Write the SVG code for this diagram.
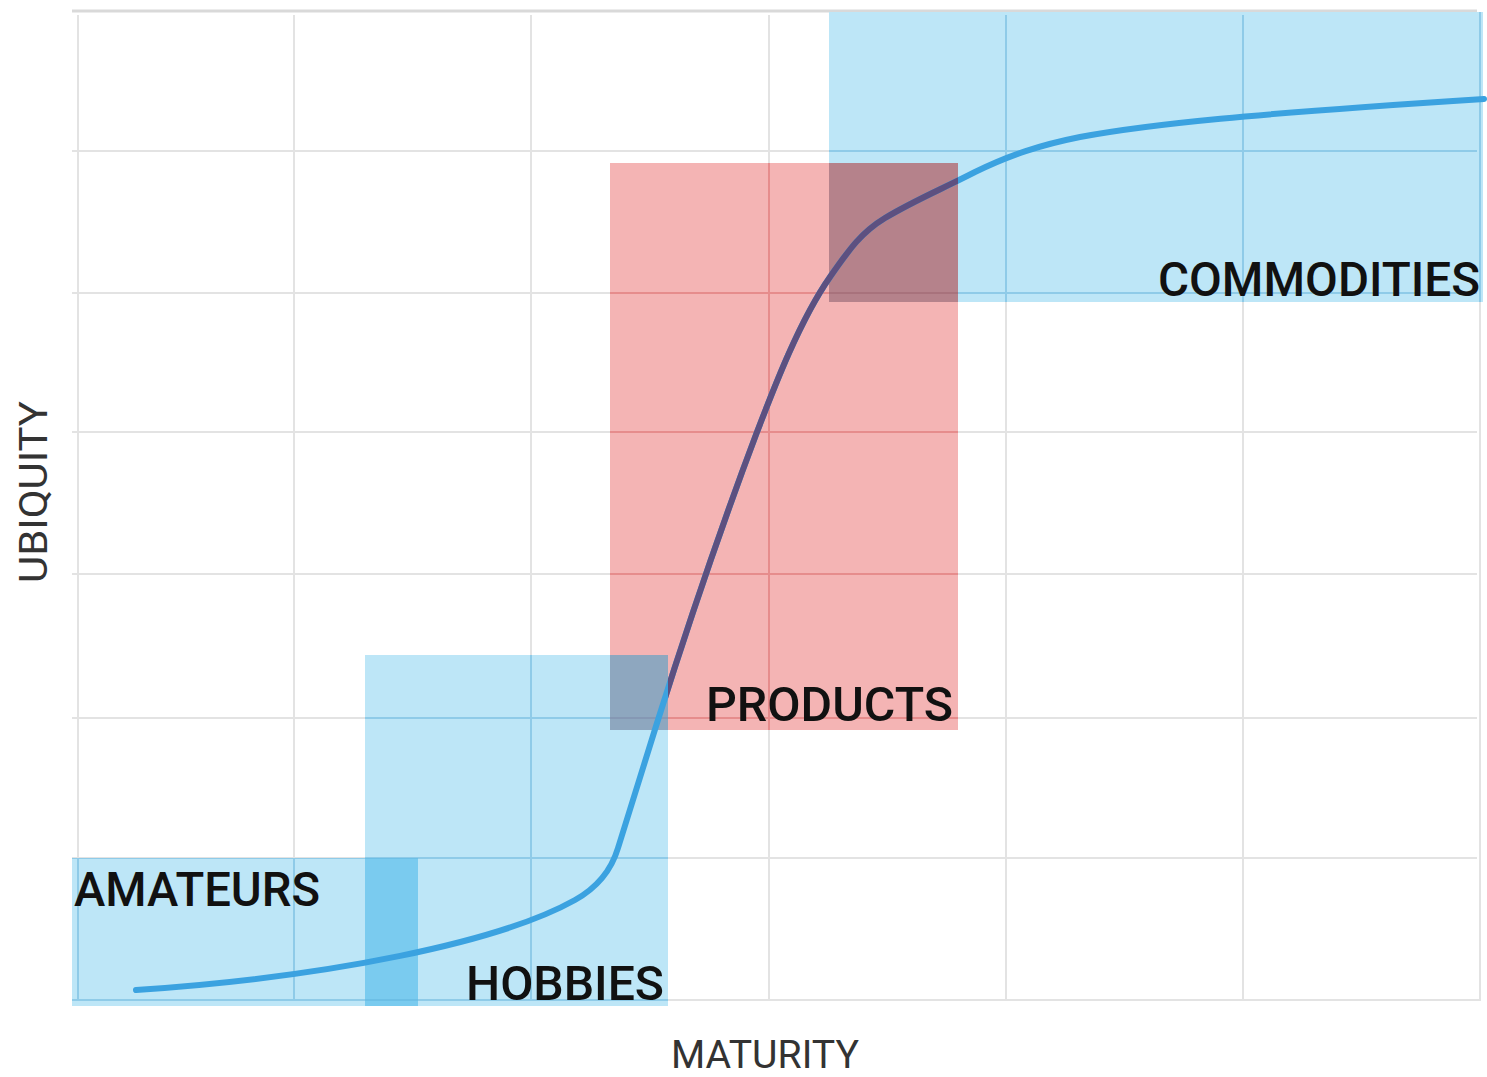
<svg xmlns="http://www.w3.org/2000/svg" xmlns:xlink="http://www.w3.org/1999/xlink" width="1487" height="1077" viewBox="0 0 1487 1077">
<style>
.lbl{font-family:Roboto,"Liberation Sans",sans-serif;font-weight:500;font-size:48px;fill:#111}
.axis{font-family:Roboto,"Liberation Sans",sans-serif;font-weight:400;font-size:39px;fill:#333}
.blue{fill:#bde6f7}
.red{fill:#f4b4b4}
.curve{fill:none;stroke-width:6;stroke-linecap:round;stroke-linejoin:round}
</style>
<defs>
<g id="gridlines" stroke-width="2">
<line x1="72" y1="151" x2="1477" y2="151"/>
<line x1="72" y1="293" x2="1477" y2="293"/>
<line x1="72" y1="432" x2="1477" y2="432"/>
<line x1="72" y1="574" x2="1477" y2="574"/>
<line x1="72" y1="718" x2="1477" y2="718"/>
<line x1="72" y1="858" x2="1477" y2="858"/>
<line x1="72" y1="1000" x2="1480" y2="1000"/>
<line x1="78" y1="15" x2="78" y2="1001"/>
<line x1="294" y1="15" x2="294" y2="1001"/>
<line x1="531" y1="15" x2="531" y2="1001"/>
<line x1="769" y1="15" x2="769" y2="1001"/>
<line x1="1006" y1="15" x2="1006" y2="1001"/>
<line x1="1243" y1="15" x2="1243" y2="1001"/>
<line x1="1480" y1="12" x2="1480" y2="1001"/>
</g>
<path id="curvePath" d="M136,990 C330,977 500,942 575,900 C600,886 612,868 618,848 L657,723 C680,650 720,530 757,432 C775,385 800,320 830,277 C850,248 862,232 885,218 C915,200 940,190 975,172 C1010,155 1040,145 1080,137 C1150,124 1250,114 1484,99"/>
<clipPath id="cA"><rect x="72" y="858" width="346" height="148"/></clipPath>
<clipPath id="cH"><rect x="365" y="655" width="303" height="351"/></clipPath>
<clipPath id="cC"><rect x="829" y="12" width="654" height="290"/></clipPath>
<clipPath id="cP"><rect x="610" y="163" width="348" height="567"/></clipPath>
<clipPath id="cPonly"><path d="M610,163 H958 V730 H668 V655 H610 Z"/></clipPath>
<clipPath id="cAH"><rect x="365" y="858" width="53" height="148"/></clipPath>
<clipPath id="cPC"><rect x="829" y="163" width="129" height="139"/></clipPath>
<clipPath id="cPH"><rect x="610" y="655" width="58" height="75"/></clipPath>
</defs>

<g id="grid">
<line x1="72" y1="11" x2="1477" y2="11" stroke="#d9d9d9" stroke-width="3"/>
<use xlink:href="#gridlines" stroke="#e3e3e3"/>
</g>

<g id="node-amateurs">
<rect class="blue" x="72" y="858" width="346" height="148"/>
<use xlink:href="#gridlines" stroke="#8fcbe8" clip-path="url(#cA)"/>
<text class="lbl" x="74" y="906" textLength="246" lengthAdjust="spacingAndGlyphs">AMATEURS</text>
</g>

<g id="node-hobbies">
<rect class="blue" x="365" y="655" width="303" height="351"/>
<use xlink:href="#gridlines" stroke="#8fcbe8" clip-path="url(#cH)"/>
<text class="lbl" x="466" y="1000" textLength="198" lengthAdjust="spacingAndGlyphs">HOBBIES</text>
</g>

<g id="node-commodities">
<rect class="blue" x="829" y="12" width="654" height="290"/>
<use xlink:href="#gridlines" stroke="#8fcbe8" clip-path="url(#cC)"/>
<text class="lbl" x="1158" y="296" textLength="322" lengthAdjust="spacingAndGlyphs">COMMODITIES</text>
</g>

<g id="node-products">
<rect class="red" x="610" y="163" width="348" height="567"/>
<use xlink:href="#gridlines" stroke="#e68c8c" clip-path="url(#cP)"/>
<text class="lbl" x="706" y="721" textLength="247" lengthAdjust="spacingAndGlyphs">PRODUCTS</text>
</g>

<g id="overlaps">
<rect x="365" y="858" width="53" height="148" fill="#7acbef"/>
<use xlink:href="#gridlines" stroke="#6cbfe6" clip-path="url(#cAH)"/>
<rect x="829" y="163" width="129" height="139" fill="#b5828b"/>
<use xlink:href="#gridlines" stroke="#a8727c" clip-path="url(#cPC)"/>
<rect x="610" y="655" width="58" height="75" fill="#8ea7bf"/>
<use xlink:href="#gridlines" stroke="#8598b4" clip-path="url(#cPH)"/>
</g>

<g id="connectors">
<use xlink:href="#curvePath" class="curve" stroke="#3ba2e0"/>
<use xlink:href="#curvePath" class="curve" stroke="#5d5080" clip-path="url(#cPonly)"/>
</g>

<g id="axes">
<text class="axis" x="671" y="1068" textLength="188" lengthAdjust="spacingAndGlyphs">MATURITY</text>
<text class="axis" transform="translate(47,583) rotate(-90)" x="0" y="0" textLength="182" lengthAdjust="spacingAndGlyphs">UBIQUITY</text>
</g>
</svg>
